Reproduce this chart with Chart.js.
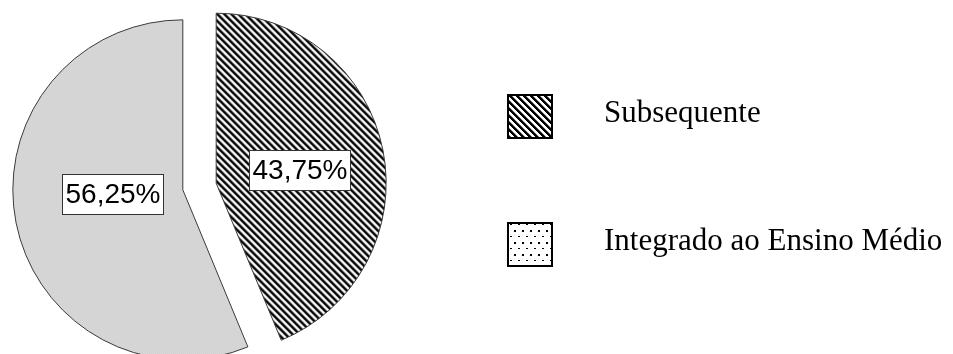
<!DOCTYPE html>
<html>
<head>
<meta charset="utf-8">
<script src="https://cdn.jsdelivr.net/npm/chart.js@4.4.1/dist/chart.umd.min.js"></script>
<style>
  html, body { margin: 0; padding: 0; background: #fff; overflow: hidden; }
  canvas { display: block; }
</style>
</head>
<body>
<canvas id="chart" width="953" height="354"></canvas>
<script>
// Course type shares (%)
const categories = ['Subsequente', 'Integrado ao Ensino Médio'];
const shares = [43.75, 56.25];

// --- fill patterns -------------------------------------------------------
function makeTile(w, h, paint) {
  const c = document.createElement('canvas');
  c.width = w; c.height = h;
  const g = c.getContext('2d');
  g.fillStyle = '#fff';
  g.fillRect(0, 0, w, h);
  paint(g);
  return c;
}

// diagonal "\" hatching
const hatchTile = makeTile(7, 7, g => {
  for (let y = 0; y < 7; y++) {
    for (let x = 0; x < 7; x++) {
      const d = ((x - y) % 7 + 7) % 7;
      if (d < 3) { g.fillStyle = '#000'; g.fillRect(x, y, 1, 1); }
      else if (d === 3) { g.fillStyle = '#808080'; g.fillRect(x, y, 1, 1); }
    }
  }
});

// fine grey stipple (checker)
const dotTile = makeTile(2, 2, g => {
  g.fillStyle = '#acacac';
  g.fillRect(0, 0, 1, 1);
  g.fillRect(1, 1, 1, 1);
});

// sparse dots used for the legend swatch
const legendDotTile = makeTile(8, 12, g => {
  g.fillStyle = '#000';
  g.fillRect(2, 2, 2, 2);
  g.fillRect(6, 8, 2, 1);
});

const ctx = document.getElementById('chart').getContext('2d');
const hatch = ctx.createPattern(hatchTile, 'repeat');
const dots = ctx.createPattern(dotTile, 'repeat');
const legendDots = ctx.createPattern(legendDotTile, 'repeat');

const fmtPct = v => v.toFixed(2).replace('.', ',') + '%';

// Pull slices away from the centre along their mid-angle.
const explodePlugin = {
  id: 'explode',
  beforeDatasetDraw(chart, args, opts) {
    const c = chart.ctx;
    args.meta.data.forEach(arc => {
      const h = (arc.startAngle + arc.endAngle) / 2;
      c.save();
      c.translate(Math.cos(h) * opts.distance, Math.sin(h) * opts.distance);
      arc.draw(c);
      c.restore();
    });
    return false;
  }
};

// Boxed percentage labels inside each slice.
const sliceLabelPlugin = {
  id: 'sliceLabels',
  afterDatasetsDraw(chart, args, opts) {
    const c = chart.ctx;
    const meta = chart.getDatasetMeta(0);
    const values = chart.data.datasets[0].data;
    const dist = chart.options.plugins.explode.distance;
    c.save();
    c.font = opts.font;
    c.textAlign = 'center';
    c.textBaseline = 'middle';
    meta.data.forEach((arc, i) => {
      const h = (arc.startAngle + arc.endAngle) / 2;
      const r = arc.outerRadius * opts.radial[i];
      const x = arc.x + Math.cos(h) * (dist + r);
      const y = arc.y + Math.sin(h) * (dist + r) + opts.shiftY[i];
      const text = fmtPct(values[i]);
      const w = Math.round(c.measureText(text).width + opts.padX * 2);
      const bh = opts.boxHeight;
      const bx = Math.round(x - w / 2) + 0.5;
      const by = Math.round(y - bh / 2) + 0.5;
      c.fillStyle = '#fff';
      c.fillRect(bx, by, w, bh);
      c.strokeStyle = '#333';
      c.lineWidth = 1;
      c.strokeRect(bx, by, w, bh);
      c.fillStyle = '#000';
      c.fillText(text, bx + w / 2, by + bh / 2 + 1);
    });
    c.restore();
  }
};

// Legend to the right of the pie.
const sideLegendPlugin = {
  id: 'sideLegend',
  afterDraw(chart, args, opts) {
    const c = chart.ctx;
    c.save();
    chart.data.labels.forEach((label, i) => {
      const top = opts.top + i * opts.step;
      c.fillStyle = opts.swatches[i];
      c.fillRect(opts.boxX, top, opts.boxW, opts.boxH);
      c.strokeStyle = '#000';
      c.lineWidth = 2;
      c.strokeRect(opts.boxX + 1, top + 1, opts.boxW - 2, opts.boxH - 2);
      c.fillStyle = '#000';
      c.font = opts.font;
      c.textAlign = 'left';
      c.textBaseline = 'alphabetic';
      c.fillText(label, opts.textX, top + opts.baseline);
    });
    c.restore();
  }
};

new Chart(ctx, {
  type: 'pie',
  data: {
    labels: categories,
    datasets: [{
      data: shares,
      backgroundColor: [hatch, dots],
      borderColor: '#3a3a3a',
      borderWidth: 1
    }]
  },
  options: {
    responsive: false,
    devicePixelRatio: 1,
    animation: false,
    events: [],
    radius: 170,
    layout: { padding: { left: 0, top: 19, right: 554, bottom: 0 } },
    plugins: {
      legend: { display: false },
      tooltip: { enabled: false },
      explode: { distance: 17 },
      sliceLabels: {
        font: '28px "Liberation Sans", Arial, sans-serif',
        radial: [0.5, 0.42],
        shiftY: [3, -10],
        padX: 3,
        boxHeight: 40
      },
      sideLegend: {
        swatches: [hatch, legendDots],
        boxX: 507, boxW: 46, boxH: 45,
        top: 94, step: 128,
        textX: 604, baseline: 28,
        font: '31px "Liberation Serif", "Times New Roman", serif'
      }
    }
  },
  plugins: [explodePlugin, sliceLabelPlugin, sideLegendPlugin]
});
</script>
</body>
</html>
